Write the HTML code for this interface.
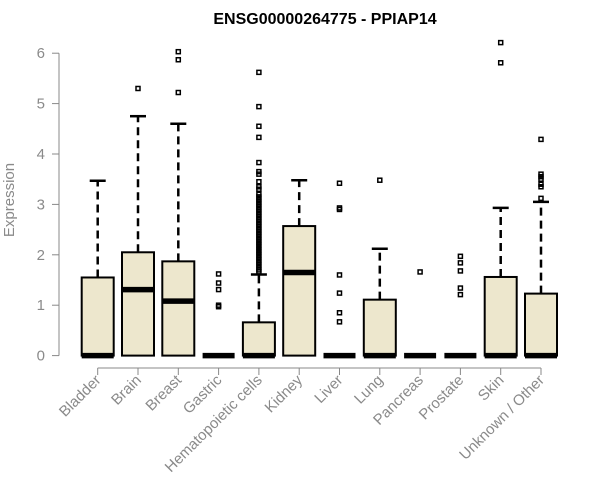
<!DOCTYPE html>
<html><head><meta charset="utf-8"><style>
body{margin:0;background:#fff;}
svg{display:block;font-family:"Liberation Sans",Arial,sans-serif;}
</style></head><body>
<svg id="chart" width="600" height="500" viewBox="0 0 600 500">
<text x="325" y="24" text-anchor="middle" font-size="16" font-weight="bold">ENSG00000264775 - PPIAP14</text>
<text transform="translate(14,200) rotate(-90)" text-anchor="middle" font-size="15" fill="#8a8a8a">Expression</text>
<g id="yaxis"></g>
<g id="xaxis"></g>
<g id="boxes"></g>
</svg>
<script>
const categories=["Bladder","Brain","Breast","Gastric","Hematopoietic cells","Kidney","Liver","Lung","Pancreas","Prostate","Skin","Unknown / Other"];
const q1=[0,0,0,0,0,0,0,0,0,0,0,0];
const medians=[0,1.31,1.08,0,0,1.65,0,0,0,0,0,0];
const q3=[1.55,2.05,1.87,0,0.66,2.57,0,1.11,0,0,1.56,1.23];
const whiskerHi=[3.47,4.75,4.6,0,1.61,3.48,0,2.12,0,0,2.93,3.05];
const outliers=[
 [],
 [5.3],
 [6.03,5.87,5.22],
 [1.62,1.44,1.31,1.0,0.97],
 [5.62,4.94,4.55,4.33,3.83,3.65,3.6,3.45,3.35,3.3,3.2,3.15,3.1,3.05,3.0,2.95,2.9,2.85,2.8,2.75,2.7,2.65,2.6,2.55,2.5,2.45,2.4,2.35,2.3,2.25,2.2,2.15,2.1,2.05,2.0,1.95,1.9,1.85,1.8,1.75,1.7,1.66],
 [],
 [3.42,2.93,2.9,1.6,1.24,0.85,0.67],
 [3.48],
 [1.66],
 [1.97,1.84,1.68,1.34,1.21],
 [6.21,5.81],
 [4.29,3.6,3.55,3.5,3.4,3.35,3.12]
];
const yTicks=[0,1,2,3,4,5,6];
const NS="http://www.w3.org/2000/svg";
const y=v=>355.6-v*50.4;
const x=i=>97.7+i*40.3;
const BW=32;
function mk(tag,attrs,parent){const e=document.createElementNS(NS,tag);for(const k in attrs)e.setAttribute(k,attrs[k]);parent.appendChild(e);return e;}
const ya=document.getElementById('yaxis'),xa=document.getElementById('xaxis'),bx=document.getElementById('boxes');
mk('line',{x1:59,x2:59,y1:y(6),y2:y(0),stroke:'#888'},ya);
yTicks.forEach(t=>{
 mk('line',{x1:52,x2:59,y1:y(t),y2:y(t),stroke:'#888'},ya);
 const tx=mk('text',{x:45,y:y(t)+5,'text-anchor':'end','font-size':15,fill:'#8a8a8a'},ya);
 
 
 tx.textContent=t;
});
mk('line',{x1:x(0),x2:x(categories.length-1),y1:368,y2:368,stroke:'#888'},xa);
categories.forEach((c,i)=>{
 mk('line',{x1:x(i),x2:x(i),y1:368,y2:375,stroke:'#888'},xa);
 const tx=mk('text',{transform:`translate(${x(i)+4},${381}) rotate(-45)`,'text-anchor':'end','font-size':15,fill:'#8a8a8a'},xa);
 
 
 tx.textContent=c;
 const g=mk('g',{},bx);
 
 
 const cx=x(i);
 if(whiskerHi[i]>q3[i]){
  mk('line',{x1:cx,x2:cx,y1:y(q3[i]),y2:y(whiskerHi[i]),stroke:'#000','stroke-width':2.5,'stroke-dasharray':'8,5'},g);
  mk('line',{x1:cx-8,x2:cx+8,y1:y(whiskerHi[i]),y2:y(whiskerHi[i]),stroke:'#000','stroke-width':2.5},g);
 }
 if(q3[i]>q1[i]) mk('rect',{x:cx-BW/2,y:y(q3[i]),width:BW,height:y(q1[i])-y(q3[i]),fill:'#ede7cd',stroke:'#000','stroke-width':2},g);
 mk('line',{x1:cx-BW/2,x2:cx+BW/2,y1:y(medians[i]),y2:y(medians[i]),stroke:'#000','stroke-width':5.5},g);
 outliers[i].forEach(v=>{
  const r=mk('rect',{x:cx-2,y:y(v)-2,width:4,height:4,fill:'none',stroke:'#000','stroke-width':1.5},g);
  
  
 });
});
</script>
</body></html>
